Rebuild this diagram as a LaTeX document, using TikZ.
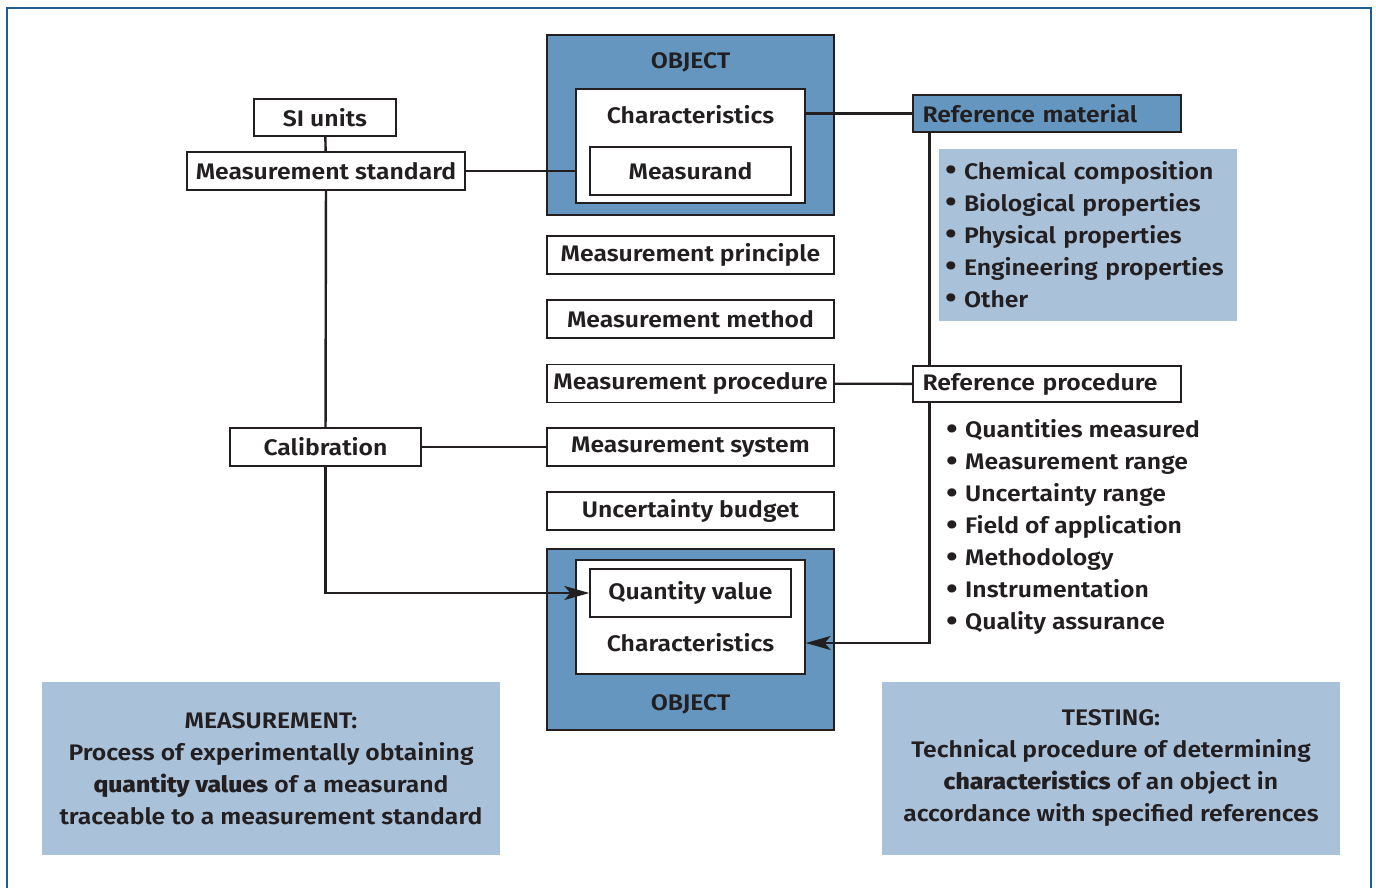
\documentclass[tikz,border=0pt]{standalone}
\usepackage{fontspec}
\setmainfont{Fira Sans SemiBold}[FakeStretch=1.1]
\newfontfamily\heavyfont{Fira Sans ExtraBold}[FakeStretch=1.1]
\usetikzlibrary{arrows.meta,calc}
\definecolor{frameblue}{RGB}{30,95,145}
\definecolor{objblue}{RGB}{101,150,191}
\definecolor{lightblue}{RGB}{170,193,218}
\definecolor{ink}{RGB}{35,31,32}
\newcommand\fsz{\fontsize{22.5pt}{32pt}\selectfont}
\newcommand\bul{\makebox[19pt][l]{\raisebox{-1.5pt}{\fontsize{31pt}{32pt}\selectfont •}}}
\begin{document}
\begin{tikzpicture}[x=1pt,y=-1pt,
  box/.style={draw=ink, line width=1.3pt, fill=white, inner sep=0pt, font=\fsz, text=ink},
  objbox/.style={draw=ink, line width=1.3pt, fill=objblue, inner sep=0pt},
  lbl/.style={inner sep=0pt, font=\fsz, text=ink},
  infobox/.style={fill=lightblue, inner sep=0pt, font=\fsz, text=ink, align=center},
  conn/.style={draw=ink, line width=2.4pt},
  arr/.style={conn, -{Stealth[length=25pt,width=14pt,inset=6pt]}}]
\useasboundingbox (0,0) rectangle (1376,888);
\fill[white] (0,0) rectangle (1376,888);
\draw[frameblue, line width=2.8pt] (7,900) -- (7,8) -- (1371,8) -- (1371,900);

% left column
\node[box, minimum width=142, minimum height=37] (si) at (325,117.5) {SI units};
\node[box, minimum width=278, minimum height=38] (ms) at (326,171) {Measurement standard};
\node[box, minimum width=191, minimum height=38] (cal) at (325.5,447) {Calibration};

% top object
\node[objbox, minimum width=287, minimum height=180] (obj1) at (690.5,125) {};
\node[lbl] (objt1) at (690.5,62) {OBJECT};
\node[box, minimum width=229, minimum height=114] (in1) at (690.5,146) {};
\node[lbl] (ch1) at (690.5,115) {Characteristics};
\node[box, minimum width=201, minimum height=48] (msd) at (690.5,171) {Measurand};

% middle column
\node[box, minimum width=287, minimum height=38] (mp) at (690.5,255) {Measurement principle};
\node[box, minimum width=287, minimum height=38] (mm) at (690.5,319) {Measurement method};
\node[box, minimum width=287, minimum height=38] (mpr) at (690.5,383.5) {Measurement procedure};
\node[box, minimum width=287, minimum height=38] (msys) at (690.5,447) {Measurement system};
\node[box, minimum width=287, minimum height=38] (ub) at (690.5,511) {Uncertainty budget};

% bottom object
\node[objbox, minimum width=287, minimum height=181] (obj2) at (690.5,639.5) {};
\node[box, minimum width=229, minimum height=114] (in2) at (690.5,617) {};
\node[box, minimum width=201, minimum height=48] (qv) at (690.5,593) {Quantity value};
\node[lbl] (ch2) at (690.5,643) {Characteristics};
\node[lbl] (objt2) at (690.5,704) {OBJECT};

% right column
\node[box, fill=objblue, minimum width=268, minimum height=37, text width=249, inner xsep=9.5pt, align=left] (rm) at (1047,113.5) {Reference material};
\node[box, minimum width=268, minimum height=36, text width=249, inner xsep=9.5pt, align=left] (rp) at (1047,384) {Reference procedure};
\node[infobox, minimum width=298, minimum height=172, text width=286, inner xsep=0pt, align=left] (list1) at (1088,235)
  {\bul Chemical composition\\\bul Biological properties\\\bul Physical properties\\\bul Engineering properties\\\bul Other};
\node[lbl, anchor=west, align=left] (list2) at (946,527)
  {\bul Quantities measured\\\bul Measurement range\\\bul Uncertainty range\\\bul Field of application\\\bul Methodology\\\bul Instrumentation\\\bul Quality assurance};

% definition boxes
\node[infobox, minimum width=458, minimum height=173] (meas) at (271,768.5)
  {MEASUREMENT:\\Process of experimentally obtaining\\{\heavyfont quantity values} of a measurand\\traceable to a measurement standard};
\node[infobox, minimum width=458, minimum height=173] (test) at (1111,768.5)
  {TESTING:\\Technical procedure of determining\\{\heavyfont characteristics} of an object in\\accordance with specified references};

% connectors
\coordinate (rmfoot) at ($(rm.south west)+(17,0)$);
\coordinate (rphead) at ($(rp.north west)+(17,0)$);
\coordinate (rpfoot) at ($(rp.south west)+(17,0)$);
\draw[conn] (si) -- (ms);
\draw[conn] (ms) -- (cal);
\draw[conn] (ms.east) -- (in1.west |- ms.east);
\draw[conn] (in1.east |- rm.west) -- (rm.west);
\draw[conn] (cal) -- (msys);
\draw[conn] (mpr) -- (rp);
\draw[conn] (rmfoot) -- (rphead);
\draw[arr] (cal.south) |- (qv.west);
\draw[arr] (rpfoot) |- (in2.east |- ch2);
\end{tikzpicture}
\end{document}
